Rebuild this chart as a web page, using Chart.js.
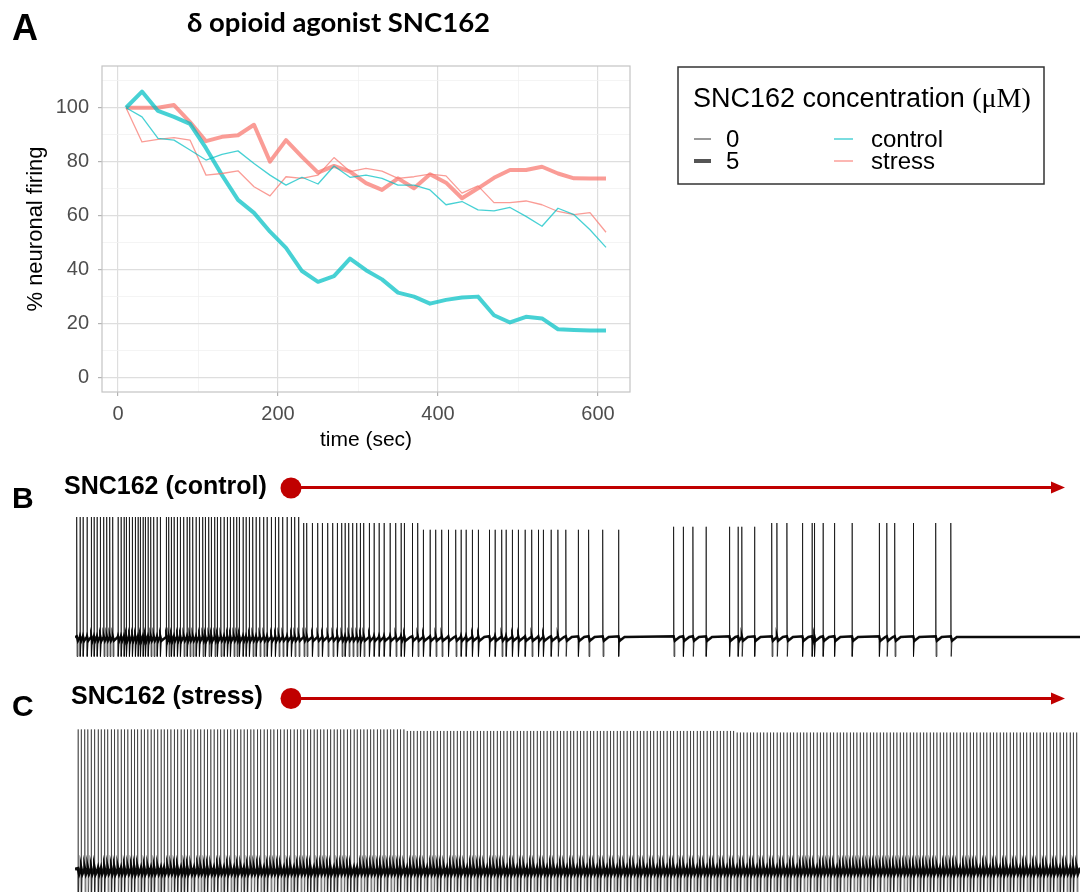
<!DOCTYPE html>
<html>
<head>
<meta charset="utf-8">
<script src="https://cdn.jsdelivr.net/npm/chart.js@4.4.0/dist/chart.umd.min.js"></script>
<style>
  html, body { margin: 0; padding: 0; background: #fff; }
  #page { position: relative; width: 1080px; height: 892px; overflow: hidden; }
  #page canvas, #page svg { position: absolute; left: 0; }
  svg text { font-family: 'Liberation Sans', Arial, sans-serif; }
</style>
</head>
<body>
<div id="page">
  <canvas id="chartA" width="1080" height="460" style="top:0"></canvas>
  <canvas id="traceB" width="1080" height="165" style="top:505px"></canvas>
  <canvas id="traceC" width="1080" height="172" style="top:720px"></canvas>
  <svg width="1080" height="892" style="top:0">
    <text x="12" y="40" font-weight="bold" font-size="36">A</text>
    <text x="187" y="32" style="font-family:Lato,'Open Sans',sans-serif" font-weight="bold" font-size="26" textLength="303" lengthAdjust="spacingAndGlyphs">δ opioid agonist SNC162</text>

    <rect x="678" y="67" width="366" height="117" fill="#fff" stroke="#333" stroke-width="1.5"/>
    <text x="693" y="107" font-size="27">SNC162 concentration <tspan style="font-family:'Liberation Serif',serif" font-size="28">(μM)</tspan></text>
    <line x1="694" y1="139" x2="711" y2="139" stroke="#555" stroke-width="1.2"/>
    <line x1="694" y1="161" x2="711" y2="161" stroke="#555" stroke-width="4"/>
    <text x="726" y="147" font-size="24">0</text>
    <text x="726" y="169" font-size="24">5</text>
    <line x1="834" y1="139" x2="853" y2="139" stroke="rgba(0,191,196,0.75)" stroke-width="1.4"/>
    <line x1="834" y1="161" x2="853" y2="161" stroke="rgba(248,118,109,0.75)" stroke-width="1.4"/>
    <text x="871" y="147" font-size="24">control</text>
    <text x="871" y="169" font-size="24">stress</text>

    <text x="12" y="508" font-weight="bold" font-size="30">B</text>
    <text x="64" y="494" font-weight="bold" font-size="25">SNC162 (control)</text>
    <line x1="291" y1="487.5" x2="1054" y2="487.5" stroke="#C00000" stroke-width="3"/>
    <polygon points="1051,481.5 1065,487.5 1051,493.5" fill="#C00000"/>
    <circle cx="291" cy="488" r="10.5" fill="#C00000"/>

    <text x="12" y="716" font-weight="bold" font-size="30">C</text>
    <text x="71" y="704" font-weight="bold" font-size="25">SNC162 (stress)</text>
    <line x1="291" y1="698.5" x2="1054" y2="698.5" stroke="#C00000" stroke-width="3"/>
    <polygon points="1051,692.5 1065,698.5 1051,704.5" fill="#C00000"/>
    <circle cx="291" cy="698.5" r="10.5" fill="#C00000"/>
  </svg>
</div>
<script>
// panel A: % neuronal firing, sampled every 20 s
const times = [10, 30, 50, 70, 90, 110, 130, 150, 170, 190, 210, 230, 250, 270, 290, 310,
  330, 350, 370, 390, 410, 430, 450, 470, 490, 510, 530, 550, 570, 590, 610]
const control0 = [100, 96.6, 88.6, 88, 84.3, 80.6, 82.7, 84, 79.3, 75, 71.3, 74.2, 71.7, 78.4, 74.2, 75,
  73.8, 71.3, 71.3, 69.5, 64, 65.2, 62.1, 61.7, 63, 59.7, 56, 62.7, 60.3, 54.7, 48.2]
const control5 = [100, 106, 98.8, 96.6, 94, 85, 75, 65.8, 61, 54, 48, 39.4, 35.4, 37.5, 44, 39.7,
  36.3, 31.4, 29.9, 27.3, 28.7, 29.6, 29.9, 23, 20.3, 22.4, 21.8, 17.8, 17.5, 17.3, 17.3]
const stress0 = [100, 87.3, 88.3, 88.9, 88, 75, 75.6, 76.6, 70.7, 67.3, 74.4, 73.8, 75, 81.5, 76.3, 77.5,
  76.5, 73.8, 74.4, 75.4, 74.7, 68.3, 71, 64.8, 64.8, 65.4, 64, 61.5, 60.3, 61.1, 53.8]
const stress5 = [100, 100, 100, 101, 94.7, 87.6, 89.2, 89.8, 93.7, 80, 88, 81.8, 75.9, 78.4, 76.3, 72,
  69.5, 73.8, 70.1, 75.3, 72.2, 66.4, 70.1, 74, 76.9, 76.9, 78.1, 75.6, 73.8, 73.7, 73.7]
const xTicks = [0, 100, 200, 300, 400, 500, 600]
const yTicks = [0, 10, 20, 30, 40, 50, 60, 70, 80, 90, 100, 110]

// panels B/C: spike times along the recording (recording units, 0-1005)
const controlSpikes = [1.7, 5, 8, 12, 16.3, 19, 22, 25.3, 28.7, 31.7, 34.7, 37.7, 43, 46, 49, 51.3, 54.3,
  57.3, 60.3, 63, 65.3, 68, 70.3, 73, 75.7, 78.7, 82, 85.3, 91.3, 93.7, 96.3, 99, 102.3, 105.3, 108.7,
  112, 114.7, 117.7, 121, 124.3, 127.7, 130.3, 133.7, 136.3, 139.7, 142.3, 145.7, 149, 152.3, 155.3,
  158.7, 161.7, 164.3, 168, 171, 174.3, 177.7, 181, 184.7, 188.7, 192, 196.3, 200.3, 203.7, 207.7, 212,
  216.3, 219.7, 223.7, 228.7, 231.7, 237.3, 242.7, 247.3, 252.7, 257.7, 262.3, 266.7, 270, 273.7, 277.7,
  281.7, 285.3, 288.7, 294.3, 299, 304, 309, 315, 320.7, 326, 329.3, 337.3, 342.7, 348.3, 355, 360.7,
  366.7, 373.3, 380.7, 386, 391, 397.3, 403.3, 414.3, 420, 426.7, 431, 437.3, 443.3, 450, 456.7, 463.3,
  468.3, 476, 482.9, 490.8, 503.2, 513.6, 527.7, 543.5, 598.6, 608.2, 617.9, 631, 654.4, 663, 666.8,
  679.5, 696.7, 701.9, 711.9, 727.4, 737, 739.4, 748, 759.4, 777, 804.2, 811.8, 819.7, 838.3, 860.7, 875.8]
const controlPeakFrom = [0, 225, 345, 560, 685]
const controlPeak = [22, 18, 13.5, 15.5, 18]
const controlBase = -58
const controlTrough = -71

const stressSpikes = [3, 6.2, 9.7, 12.8, 16.2, 19.5, 23.1, 26.1, 29.5, 32.7,
  36.3, 39.4, 42.9, 46.1, 49.4, 52.8, 56.3, 59.4, 62.6, 66.1,
  69.3, 72.8, 76, 79.2, 82.7, 86, 89.1, 92.6, 95.9, 99.3,
  102.5, 106, 109.2, 112.4, 115.9, 119.1, 122.6, 125.7, 129.2, 132.4,
  135.8, 139, 142.5, 145.6, 149, 152.4, 155.7, 159.1, 162.3, 165.8,
  169, 172.3, 175.8, 178.9, 182.4, 185.6, 189, 192.3, 195.7, 198.9,
  202.4, 205.6, 209, 212.3, 215.6, 219, 222.3, 225.7, 228.9, 232.4,
  235.5, 239, 242.2, 245.6, 248.9, 252.3, 255.5, 259, 262.2, 265.6,
  268.9, 272.3, 275.5, 279, 282.1, 285.6, 288.9, 292.2, 295.6, 298.8,
  302.3, 305.5, 308.9, 312.2, 315.6, 318.8, 322.3, 325.4, 328.9, 332.1,
  335.5, 338.8, 342.2, 345.5, 348.9, 352.1, 355.6, 358.8, 362.2, 365.4,
  368.9, 372.1, 375.5, 378.8, 382.2, 385.4, 388.9, 392.1, 395.5, 398.7,
  402.2, 405.4, 408.8, 412.1, 415.5, 418.7, 422.2, 425.4, 428.8, 432,
  435.5, 438.7, 442.1, 445.4, 448.8, 452, 455.5, 458.7, 462.1, 465.4,
  468.8, 472, 475.5, 478.7, 482.1, 485.4, 488.8, 492, 495.5, 498.7,
  502.1, 505.4, 508.8, 512, 515.4, 518.7, 522.1, 525.3, 528.8, 532,
  535.4, 538.7, 542.1, 545.3, 548.8, 552, 555.4, 558.7, 562.1, 565.3,
  568.8, 572, 575.4, 578.7, 582.1, 585.3, 588.7, 592, 595.4, 598.6,
  602.1, 605.3, 608.7, 612, 615.4, 618.6, 622.1, 625.3, 628.7, 632,
  635.4, 638.6, 642, 645.3, 648.7, 652, 655.4, 658.6, 662, 665.3,
  668.7, 672, 675.4, 678.6, 682, 685.3, 688.7, 692, 695.4, 698.6,
  702, 705.3, 708.7, 712, 715.3, 718.6, 722, 725.3, 728.7, 731.9,
  735.3, 738.6, 742, 745.3, 748.6, 751.9, 755.3, 758.6, 762, 765.2,
  768.6, 771.9, 775.3, 778.6, 781.9, 785.2, 788.6, 791.9, 795.3, 798.5,
  801.9, 805.2, 808.6, 811.9, 815.2, 818.5, 821.9, 825.2, 828.6, 831.8,
  835.2, 838.5, 841.9, 845.2, 848.5, 851.8, 855.2, 858.5, 861.9, 865.1,
  868.5, 871.8, 875.2, 878.5, 881.8, 885.1, 888.5, 891.8, 895.2, 898.4,
  901.8, 905.1, 908.5, 911.8, 915.1, 918.4, 921.8, 925.1, 928.5, 931.7,
  935.1, 938.4, 941.8, 945.1, 948.4, 951.7, 955.1, 958.4, 961.8, 965,
  968.4, 971.7, 975.1, 978.4, 981.7, 985, 988.4, 991.7, 995.1, 998.3, 1001.7]
const stressPeakFrom = [0, 330, 660]
const stressPeak = [24, 23, 22]
const stressBase = -65.3
const stressTrough = -90

Chart.defaults.font.family = "'Liberation Sans', Arial, sans-serif"

const CYAN = "rgba(0, 191, 196, 0.72)"
const RED = "rgba(248, 118, 109, 0.72)"

const toXY = (ys) => times.map((t, i) => ({ x: t, y: ys[i] }))

const panelBorder = {
  id: "panelBorder",
  afterDatasetsDraw(chart) {
    const { ctx, chartArea: a } = chart
    ctx.save()
    ctx.strokeStyle = "#C4C4C4"
    ctx.lineWidth = 1.2
    ctx.strokeRect(a.left, a.top, a.right - a.left, a.bottom - a.top)
    ctx.restore()
  },
}

const isMajorX = (v) => v % 200 === 0
const isMajorY = (v) => v % 20 === 0 && v <= 100

new Chart(document.getElementById("chartA"), {
  type: "line",
  data: {
    datasets: [
      { label: "control 0", data: toXY(control0), borderColor: CYAN, borderWidth: 1.3 },
      { label: "stress 0", data: toXY(stress0), borderColor: RED, borderWidth: 1.3 },
      { label: "control 5", data: toXY(control5), borderColor: CYAN, borderWidth: 4 },
      { label: "stress 5", data: toXY(stress5), borderColor: RED, borderWidth: 4 },
    ],
  },
  options: {
    responsive: false,
    animation: false,
    layout: { padding: { left: 0, right: 450, top: 66, bottom: 0 } },
    elements: { point: { radius: 0 }, line: { tension: 0, borderJoinStyle: "round" } },
    plugins: { legend: { display: false }, tooltip: { enabled: false } },
    scales: {
      x: {
        type: "linear",
        min: -20,
        max: 640,
        afterBuildTicks: (s) => { s.ticks = xTicks.map((v) => ({ value: v })) },
        afterFit: (s) => { s.height = 68 },
        grid: {
          color: (c) => (isMajorX(c.tick.value) ? "#DEDEDE" : "#F1F1F1"),
          lineWidth: (c) => (isMajorX(c.tick.value) ? 1.2 : 0.8),
          tickColor: (c) => (isMajorX(c.tick.value) ? "#B3B3B3" : "rgba(0,0,0,0)"),
          tickLength: 4,
        },
        border: { display: false },
        ticks: {
          autoSkip: false,
          maxRotation: 0,
          padding: 6,
          color: "#4D4D4D",
          font: { size: 20 },
          callback: (v) => (isMajorX(v) ? v : ""),
        },
        title: { display: true, text: "time (sec)", color: "#000", font: { size: 21 }, padding: { top: 0, bottom: 7 } },
      },
      y: {
        min: -5.5,
        max: 115.5,
        afterBuildTicks: (s) => { s.ticks = yTicks.map((v) => ({ value: v })) },
        afterFit: (s) => { s.width = 102 },
        grid: {
          color: (c) => (isMajorY(c.tick.value) ? "#DEDEDE" : "#F1F1F1"),
          lineWidth: (c) => (isMajorY(c.tick.value) ? 1.2 : 0.8),
          tickColor: (c) => (isMajorY(c.tick.value) ? "#B3B3B3" : "rgba(0,0,0,0)"),
          tickLength: 4,
        },
        border: { display: false },
        ticks: {
          autoSkip: false,
          padding: 9,
          color: "#4D4D4D",
          font: { size: 20 },
          callback: (v) => (isMajorY(v) ? v : ""),
        },
        title: { display: true, text: "% neuronal firing", color: "#000", font: { size: 22 }, padding: { top: 23, bottom: 0 } },
      },
    },
  },
  plugins: [panelBorder],
})

// spike trains
function peakAt(froms, peaks, t) {
  let p = peaks[0]
  froms.forEach((f, i) => { if (t >= f) p = peaks[i] })
  return p
}

// after-hyperpolarisation: dip just after the spike, back to rest before the next one
function recoverAt(spikes, i) {
  const next = i + 1 < spikes.length ? spikes[i + 1] : 1005
  return Math.min(spikes[i] + 6, next - 0.2)
}

function spikeLine(spikes, froms, peaks, base, trough, dip) {
  const pts = [{ x: 0, y: base }]
  spikes.forEach((t, i) => {
    pts.push(
      { x: t, y: base },
      { x: t, y: peakAt(froms, peaks, t) },
      { x: t + 0.4, y: trough },
      { x: t + 1.2, y: base - dip },
      { x: recoverAt(spikes, i), y: base }
    )
  })
  pts.push({ x: 1005, y: base })
  return pts
}

function baseLine(spikes, base, dip) {
  const pts = [{ x: 0, y: base }]
  spikes.forEach((t, i) => {
    pts.push({ x: t, y: base + 0.5 }, { x: t + 1.2, y: base - dip }, { x: recoverAt(spikes, i), y: base })
  })
  pts.push({ x: 1005, y: base })
  return pts
}

function traceChart(id, spikes, froms, peaks, base, trough, dip, spikeColor, baseWidth) {
  new Chart(document.getElementById(id), {
    type: "line",
    data: {
      datasets: [
        { data: spikeLine(spikes, froms, peaks, base, trough, dip), borderColor: spikeColor, borderWidth: 1 },
        { data: baseLine(spikes, base, dip), borderColor: "#111", borderWidth: baseWidth },
      ],
    },
    options: {
      responsive: false,
      animation: false,
      layout: { padding: { left: 75, right: 0, top: 0, bottom: 0 } },
      elements: { point: { radius: 0 }, line: { tension: 0 } },
      plugins: { legend: { display: false }, tooltip: { enabled: false } },
      scales: {
        x: { type: "linear", min: 0, max: 1005, display: false },
        y: { min: -80, max: 30, display: false },
      },
    },
  })
}

traceChart("traceB", controlSpikes, controlPeakFrom, controlPeak, controlBase, controlTrough, 2.5, "rgba(0,0,0,0.7)", 2.5)
traceChart("traceC", stressSpikes, stressPeakFrom, stressPeak, stressBase, stressTrough, 3, "rgba(0,0,0,0.5)", 3)
</script>
</body>
</html>
